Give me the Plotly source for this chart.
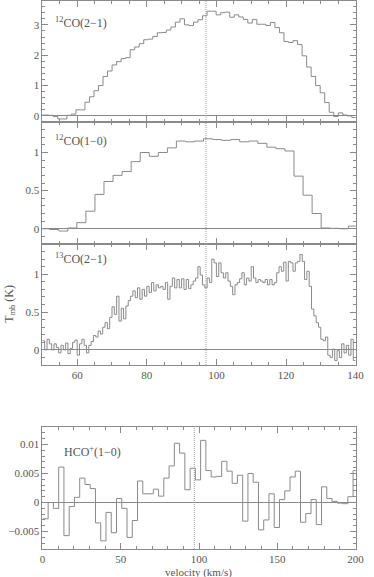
import numpy as np
import plotly.graph_objects as go
from plotly.subplots import make_subplots

# 12CO(2-1): channel width 1.3 km/s
co21_v0, co21_dv = 49.87, 1.3
co21_t = [0.03, 0.03, 0.02, -0.02, -0.1, -0.1, 0.02, 0.06, 0.2, 0.2,
          0.45, 0.63, 0.83, 1.0, 1.3, 1.48, 1.68, 1.79, 1.89, 1.92,
          2.18, 2.27, 2.38, 2.51, 2.53, 2.62, 2.74, 2.75, 2.83, 2.93,
          3.09, 3.2, 3.0, 2.98, 3.09, 3.17, 3.3, 3.45, 3.45, 3.33,
          3.4, 3.42, 3.25, 3.33, 3.26, 3.18, 3.06, 3.18, 3.02, 3.02,
          2.98, 3.08, 2.91, 2.74, 2.45, 2.42, 2.48, 2.35, 1.98, 1.61,
          1.3, 1.0, 0.76, 0.44, 0.12, -0.02, 0.1, 0.03, 0.0, -0.05]

# 12CO(1-0): channel width 2.6 km/s
co10_v0, co10_dv = 50.8, 2.6
co10_t = [0.0, -0.01, -0.03, 0.01, 0.08, 0.23, 0.45, 0.62, 0.70, 0.75,
          0.88, 1.0, 0.95, 1.0, 1.06, 1.15, 1.14, 1.15, 1.18, 1.17,
          1.16, 1.17, 1.14, 1.15, 1.12, 1.07, 1.05, 1.02, 0.69, 0.44,
          0.2, 0.01, 0.005, 0.0, 0.035]

# 13CO(2-1): 135 channels of ~0.67 km/s between 50 and 140
c13_dv = 90 / 135
c13_v0 = 50 + c13_dv / 2
c13_t = [0.12, 0.0, 0.14, 0.08, 0.0, 0.08, 0.03, -0.04, 0.06, 0.0,
         0.09, -0.05, 0.02, 0.1, 0.13, -0.07, 0.08, 0.14, 0.06, -0.04,
         0.06, 0.11, 0.19, 0.17, 0.25, 0.21, 0.3, 0.36, 0.28, 0.43,
         0.57, 0.47, 0.71, 0.38, 0.55, 0.41, 0.58, 0.65, 0.71, 0.78,
         0.69, 0.82, 0.67, 0.8, 0.71, 0.84, 0.76, 0.89, 0.78, 0.86,
         0.82, 0.84, 0.8, 0.89, 0.67, 0.84, 0.95, 0.82, 0.93, 0.82,
         0.94, 0.8, 0.93, 0.81, 0.86, 0.91, 0.95, 1.1, 0.99, 0.86,
         0.82, 0.95, 0.89, 1.2, 1.15, 0.97, 1.15, 1.02, 0.95, 1.02,
         0.91, 0.84, 0.73, 0.86, 0.89, 0.94, 1.02, 0.86, 0.95, 0.91,
         1.1, 0.95, 0.89, 0.93, 0.91, 0.89, 0.93, 0.86, 0.93, 0.86,
         0.89, 1.02, 1.1, 1.04, 1.16, 0.91, 1.17, 1.15, 1.04, 1.15,
         1.17, 1.26, 1.17, 0.93, 1.04, 0.84, 0.54, 0.45, 0.36, 0.3,
         0.14, 0.12, 0.17, -0.07, -0.1, 0.01, -0.14, -0.01, -0.1, 0.08,
         -0.04, 0.06, -0.07, 0.14, -0.14]

# HCO+(1-0): channel width ~3.36 km/s
hco_v0, hco_dv = 2.0, 3.357
hco_t = [-0.0028, 0.0, -0.001, 0.0061, -0.0057, -0.0007, 0.0009, 0.0042, 0.0031, 0.0024,
         -0.0035, -0.0066, -0.0017, -0.0052, 0.0007, -0.001, -0.006, -0.0031, 0.0037, 0.0015,
         0.0015, 0.0023, 0.0011, 0.0042, 0.0063, 0.0102, 0.0085, 0.0022, 0.0059, 0.0039,
         0.0107, 0.0055, 0.0044, 0.0045, 0.0071, 0.0054, 0.0033, 0.0047, -0.0032, 0.005,
         0.0035, -0.0047, -0.003, 0.0015, -0.0043, 0.0005, 0.002, 0.0044, 0.0054, -0.0034,
         -0.0019, 0.0005, -0.0038, 0.0027, 0.0007, 0.0002, -0.0001, -0.0002, 0.001, 0.0055]

v_sys = 97
labels = ["<sup>12</sup>CO(2\u22121)", "<sup>12</sup>CO(1\u22120)",
          "<sup>13</sup>CO(2\u22121)", "HCO<sup>+</sup>(1\u22120)"]

W, H = 374, 577
gray = "#8a8a8a"
txt = "#555555"
font = "Liberation Serif"


def steps(v0, dv, t):
    # left edges of each channel plus the final right edge
    edges = v0 - dv / 2 + dv * np.arange(len(t) + 1)
    return edges, list(t) + [t[-1]]


fig = make_subplots(rows=4, cols=1)
spectra = [(co21_v0, co21_dv, co21_t), (co10_v0, co10_dv, co10_t),
           (c13_v0, c13_dv, c13_t), (hco_v0, hco_dv, hco_t)]
for i, (v0, dv, t) in enumerate(spectra):
    x, y = steps(v0, dv, t)
    fig.add_trace(go.Scatter(x=x, y=y, mode="lines", line_shape="hv",
                             line=dict(color=gray, width=1), showlegend=False,
                             hoverinfo="skip"),
                  row=i + 1, col=1)

# pixel boxes (top, bottom) of each panel
boxes = [(0, 122), (122, 244), (244, 365), (427, 549)]
xl, xr = 40.7 / W, 364.3 / W
yranges = [[-0.2, 3.8], [-0.2, 1.4], [-0.2, 1.4], [-0.008, 0.013]]
ydt = [1, 0.5, 0.5, 0.005]
ymin = [0.2, 0.1, 0.1, 0.001]

for i in range(4):
    top, bot = boxes[i]
    ax = dict(showline=True, linecolor=gray, linewidth=1, mirror="allticks",
              ticks="inside", ticklen=6, tickcolor=gray, showgrid=False,
              tickfont=dict(family=font, size=11, color=txt))
    last = i >= 2
    fig.update_xaxes(ax, row=i + 1, col=1, domain=[xl, xr],
                     range=[0, 200] if i == 3 else [50, 140],
                     dtick=50 if i == 3 else 20, tick0=0,
                     minor=dict(dtick=10 if i == 3 else 5, ticks="inside",
                                ticklen=3, tickcolor=gray),
                     showticklabels=last, zeroline=False)
    fig.update_yaxes(ax, row=i + 1, col=1,
                     domain=[1 - bot / H, min(1 - top / H, 0.999)],
                     range=yranges[i], dtick=ydt[i], tick0=0,
                     minor=dict(dtick=ymin[i], ticks="inside", ticklen=3, tickcolor=gray),
                     zeroline=True, zerolinecolor=gray, zerolinewidth=1)
    xref = "x" if i == 0 else "x%d" % (i + 1)
    yref = "y" if i == 0 else "y%d" % (i + 1)
    fig.add_shape(type="line", xref=xref, yref=yref + " domain", x0=v_sys, x1=v_sys,
                  y0=0, y1=1, line=dict(color="#9a9a9a", width=1, dash="1px,1px"))

label_pos = [(52, 22), (52, 141), (52, 258), (61, 451)]
for (px, py), lab in zip(label_pos, labels):
    fig.add_annotation(x=px / W, y=1 - py / H, xref="paper", yref="paper",
                       xanchor="left", yanchor="middle", text=lab, showarrow=False,
                       font=dict(family=font, size=12, color=txt))

fig.add_annotation(x=7 / W, y=1 - 304 / H, xref="paper", yref="paper",
                   xanchor="center", yanchor="middle",
                   text="T<sub>mb</sub> (K)", textangle=-90, showarrow=False,
                   font=dict(family=font, size=12, color=txt))
fig.add_annotation(x=202 / W, y=1 - 572 / H, xref="paper", yref="paper",
                   xanchor="center", yanchor="middle",
                   text="velocity (km/s)", showarrow=False,
                   font=dict(family=font, size=11, color=txt))

fig.update_layout(width=W, height=H, margin=dict(l=0, r=0, t=0, b=0),
                  paper_bgcolor="white", plot_bgcolor="white")

# drop the default body margin so the figure sits flush in the window
fig.write_html("out.html", config={"displayModeBar": False},
               post_script="document.body.style.margin='0';")
